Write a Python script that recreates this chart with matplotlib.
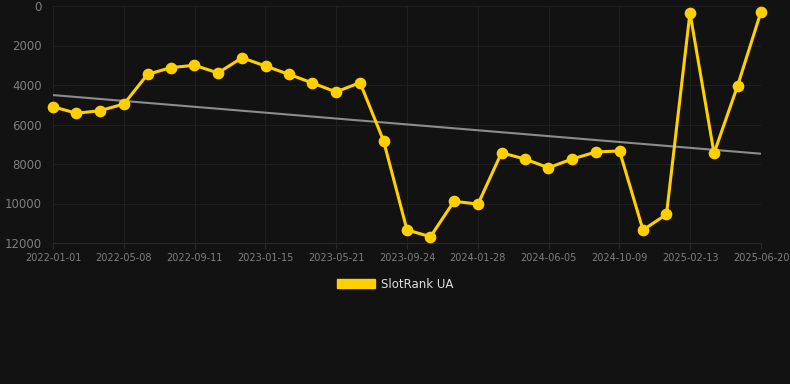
import matplotlib

matplotlib.use("Agg")
import matplotlib.dates as mdates
import matplotlib.pyplot as plt
import numpy as np
import pandas as pd
from matplotlib.patches import Patch

# data
dates = [
    "2022-01-01", "2022-02-12", "2022-03-26", "2022-05-08", "2022-06-19", "2022-07-31",
    "2022-09-11", "2022-10-23", "2022-12-05", "2023-01-16", "2023-02-27", "2023-04-10",
    "2023-05-22", "2023-07-04", "2023-08-15", "2023-09-26", "2023-11-07", "2023-12-19",
    "2024-01-31", "2024-03-13", "2024-04-24", "2024-06-05", "2024-07-17", "2024-08-29",
    "2024-10-10", "2024-11-21", "2025-01-02", "2025-02-13", "2025-03-28", "2025-05-09",
    "2025-06-20",
]
rank = [
    5100, 5430, 5300, 4960, 3460, 3120, 3000, 3390, 2620, 3040, 3460, 3900,
    4350, 3880, 6820, 11340, 11680, 9890, 10030, 7430, 7750, 8190, 7750, 7390,
    7340, 11340, 10550, 340, 7460, 4050, 290,
]
trend_dates = ["2022-01-01", "2025-06-20"]
trend_vals = [4510, 7480]
tick_labels = [
    "2022-01-01", "2022-05-08", "2022-09-11", "2023-01-15", "2023-05-21", "2023-09-24",
    "2024-01-28", "2024-06-05", "2024-10-09", "2025-02-13", "2025-06-20",
]

BG = "#121212"
YELLOW = "#FFD000"
GRID = "#1f1f1f"
TXT = "#7f7f7f"

x = pd.to_datetime(dates)
tx = pd.to_datetime(trend_dates)

fig = plt.figure(figsize=(7.9, 3.84), dpi=100, facecolor=BG)
ax = fig.add_axes([53 / 790, 1 - 243 / 384, (761 - 53) / 790, (243 - 6) / 384])
ax.set_facecolor(BG)

ax.plot(tx, trend_vals, color="#8c8c8c", lw=1.5, zorder=2)
ax.plot(x, rank, color=YELLOW, lw=2.2, marker="o", ms=7.4, zorder=3, clip_on=False)

ax.set_xlim(x[0], x[-1])
ax.set_ylim(12000, 0)
ax.set_yticks([0, 2000, 4000, 6000, 8000, 10000, 12000])
# ticks are evenly spaced over the date range, labels as shown in the reference
ticks = np.linspace(mdates.date2num(x[0]), mdates.date2num(x[-1]), len(tick_labels))
ax.set_xticks(ticks)
ax.set_xticklabels(tick_labels)

ax.grid(True, color=GRID, lw=0.8)
ax.set_axisbelow(True)
for s in ["top", "right", "left"]:
    ax.spines[s].set_visible(False)
ax.spines["bottom"].set_color("#292929")
ax.tick_params(axis="y", length=0, pad=8, labelsize=8.5, labelcolor=TXT)
ax.tick_params(axis="x", length=4, color="#292929", pad=3, labelsize=7, labelcolor=TXT)

fig.legend(handles=[Patch(facecolor=YELLOW, edgecolor=YELLOW)], labels=["SlotRank UA"],
           loc="center", bbox_to_anchor=(0.5, 1 - 284 / 384), frameon=False,
           handlelength=3.2, handleheight=0.9, handletextpad=0.5, fontsize=8.5,
           labelcolor="#dddddd")

fig.savefig("out.png", dpi=100, facecolor=BG)
